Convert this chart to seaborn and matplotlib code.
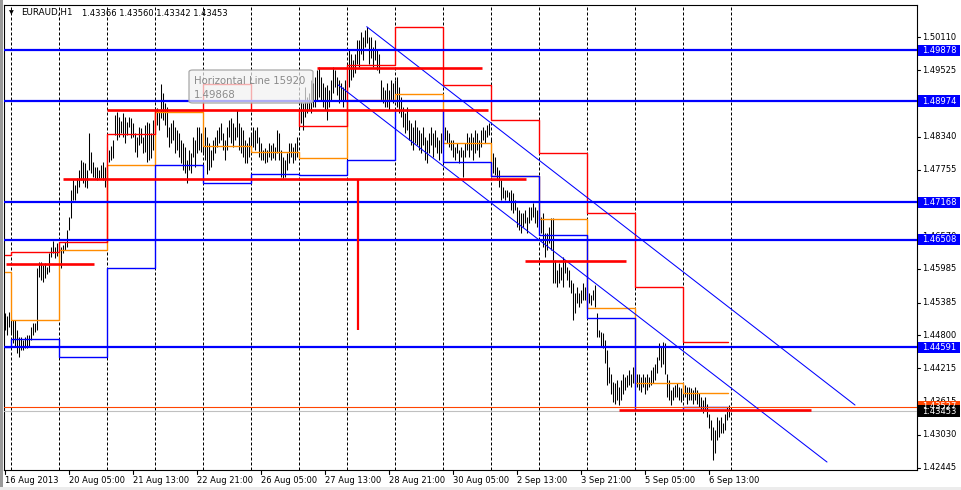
import matplotlib
matplotlib.use("Agg")
import numpy as np
import matplotlib.pyplot as plt
import matplotlib.transforms as mtrans
from matplotlib.patches import Rectangle, FancyBboxPatch
import seaborn as sns

sns.set_style("white")
plt.rcParams['font.family'] = ['DejaVu Sans']

# ---------------- data ----------------
symbol = "EURAUD,H1"
last_ohlc = ["1.43366", "1.43560", "1.43342", "1.43453"]

high = [
    1.4520, 1.4515, 1.4522,
    1.4513, 1.4508, 1.4508, 1.4490, 1.4477, 1.4477, 1.4472, 1.4477, 1.4481, 1.4481, 1.4495, 1.4502,
    1.4502, 1.4600, 1.4611, 1.4611, 1.4606, 1.4609, 1.4602, 1.4627, 1.4638, 1.4648, 1.4638, 1.4645,
    1.4645, 1.4638, 1.4641, 1.4646, 1.4668, 1.4691, 1.4739, 1.4757, 1.4748, 1.4760, 1.4775, 1.4792,
    1.4789, 1.4787, 1.4775, 1.4841, 1.4807, 1.4789, 1.4780, 1.4780, 1.4775, 1.4784, 1.4789, 1.4780,
    1.4816, 1.4810, 1.4818, 1.4828, 1.4873, 1.4878, 1.4869, 1.4862, 1.4876, 1.4869, 1.4860, 1.4869,
    1.4867, 1.4858, 1.4841, 1.4834, 1.4851, 1.4850, 1.4834, 1.4855, 1.4860, 1.4858, 1.4841, 1.4864,
    1.4887, 1.4885, 1.4878, 1.4928, 1.4912, 1.4894, 1.4887, 1.4851, 1.4858, 1.4864, 1.4851, 1.4846,
    1.4841, 1.4828, 1.4823, 1.4816, 1.4792, 1.4810, 1.4805, 1.4834, 1.4828, 1.4851, 1.4851, 1.4841,
    1.4846, 1.4851, 1.4834, 1.4823, 1.4810, 1.4828, 1.4834, 1.4846, 1.4851, 1.4858, 1.4841, 1.4828,
    1.4851, 1.4864, 1.4867, 1.4858, 1.4851, 1.4882, 1.4858, 1.4851, 1.4846, 1.4828, 1.4823, 1.4834,
    1.4841, 1.4851, 1.4846, 1.4851, 1.4834, 1.4823, 1.4810, 1.4814, 1.4810, 1.4823, 1.4819, 1.4823,
    1.4816, 1.4846, 1.4841, 1.4810, 1.4798, 1.4792, 1.4805, 1.4823, 1.4823, 1.4816, 1.4823, 1.4834,
    1.4876, 1.4899, 1.4894, 1.4922, 1.4905, 1.4912, 1.4935, 1.4930, 1.4940, 1.4953, 1.4958, 1.4940,
    1.4930, 1.4922, 1.4926, 1.4917, 1.4935, 1.4958, 1.4953, 1.4940, 1.4935, 1.4930, 1.4922, 1.4935,
    1.4958, 1.4988, 1.4982, 1.4971, 1.4982, 1.5006, 1.5006, 1.5020, 1.5011, 1.5024, 1.5029, 1.5011,
    1.5011, 1.4994, 1.5006, 1.4988, 1.4982, 1.4935, 1.4922, 1.4917, 1.4930, 1.4917, 1.4935, 1.4930,
    1.4935, 1.4940, 1.4922, 1.4905, 1.4887, 1.4876, 1.4887, 1.4864, 1.4858, 1.4851, 1.4864, 1.4851,
    1.4846, 1.4841, 1.4851, 1.4834, 1.4828, 1.4841, 1.4851, 1.4841, 1.4846, 1.4834, 1.4828, 1.4841,
    1.4851, 1.4851, 1.4846, 1.4841, 1.4828, 1.4828, 1.4816, 1.4823, 1.4810, 1.4816, 1.4810, 1.4823,
    1.4841, 1.4834, 1.4841, 1.4834, 1.4846, 1.4841, 1.4828, 1.4846, 1.4851, 1.4846, 1.4855, 1.4858,
    1.4830, 1.4805, 1.4798, 1.4780, 1.4775, 1.4757, 1.4744, 1.4739, 1.4739, 1.4735, 1.4739, 1.4734,
    1.4721, 1.4709, 1.4704, 1.4698, 1.4698, 1.4704, 1.4691, 1.4709, 1.4709, 1.4715, 1.4709, 1.4704,
    1.4704, 1.4691, 1.4698, 1.4662, 1.4662, 1.4673, 1.4689, 1.4689, 1.4615, 1.4597, 1.4609, 1.4602,
    1.4620, 1.4615, 1.4602, 1.4597, 1.4579, 1.4573, 1.4556, 1.4567, 1.4556, 1.4561, 1.4573, 1.4567,
    1.4564, 1.4556, 1.4552, 1.4561, 1.4570, 1.4520, 1.4490, 1.4486, 1.4484, 1.4472, 1.4454, 1.4424,
    1.4412, 1.4397, 1.4395, 1.4401, 1.4388, 1.4401, 1.4412, 1.4406, 1.4410, 1.4419, 1.4412, 1.4424,
    1.4430, 1.4412, 1.4412, 1.4406, 1.4412, 1.4406, 1.4412, 1.4406, 1.4419, 1.4424, 1.4430, 1.4442,
    1.4466, 1.4459, 1.4468, 1.4466, 1.4412, 1.4401, 1.4383, 1.4388, 1.4392, 1.4395, 1.4388, 1.4386,
    1.4395, 1.4392, 1.4388, 1.4388, 1.4386, 1.4383, 1.4388, 1.4383, 1.4377, 1.4370, 1.4365, 1.4370,
    1.4358, 1.4340, 1.4329, 1.4317, 1.4311, 1.4335, 1.4329, 1.4335, 1.4324, 1.4340, 1.4352, 1.4356,
]
low = [
    1.4490, 1.4480, 1.4495,
    1.4484, 1.4466, 1.4459, 1.4449, 1.4442, 1.4454, 1.4454, 1.4458, 1.4458, 1.4462, 1.4472, 1.4481,
    1.4486, 1.4490, 1.4584, 1.4579, 1.4575, 1.4582, 1.4590, 1.4593, 1.4620, 1.4627, 1.4618, 1.4622,
    1.4620, 1.4600, 1.4627, 1.4632, 1.4638, 1.4668, 1.4690, 1.4721, 1.4721, 1.4734, 1.4744, 1.4757,
    1.4751, 1.4744, 1.4743, 1.4775, 1.4770, 1.4762, 1.4760, 1.4757, 1.4760, 1.4760, 1.4757, 1.4744,
    1.4784, 1.4789, 1.4792, 1.4796, 1.4837, 1.4828, 1.4833, 1.4841, 1.4833, 1.4823, 1.4837, 1.4851,
    1.4832, 1.4833, 1.4807, 1.4798, 1.4819, 1.4823, 1.4805, 1.4807, 1.4789, 1.4792, 1.4796, 1.4810,
    1.4851, 1.4855, 1.4846, 1.4867, 1.4864, 1.4855, 1.4833, 1.4816, 1.4823, 1.4828, 1.4805, 1.4810,
    1.4798, 1.4787, 1.4775, 1.4770, 1.4751, 1.4775, 1.4770, 1.4798, 1.4780, 1.4805, 1.4810, 1.4807,
    1.4805, 1.4792, 1.4767, 1.4775, 1.4780, 1.4792, 1.4805, 1.4816, 1.4823, 1.4828, 1.4810, 1.4792,
    1.4810, 1.4834, 1.4823, 1.4816, 1.4828, 1.4834, 1.4810, 1.4805, 1.4798, 1.4787, 1.4787, 1.4798,
    1.4805, 1.4816, 1.4810, 1.4823, 1.4798, 1.4792, 1.4792, 1.4787, 1.4789, 1.4798, 1.4792, 1.4796,
    1.4792, 1.4805, 1.4792, 1.4762, 1.4760, 1.4762, 1.4775, 1.4787, 1.4798, 1.4787, 1.4792, 1.4798,
    1.4846, 1.4858, 1.4846, 1.4869, 1.4876, 1.4882, 1.4876, 1.4887, 1.4887, 1.4899, 1.4905, 1.4899,
    1.4887, 1.4882, 1.4864, 1.4887, 1.4899, 1.4912, 1.4922, 1.4908, 1.4894, 1.4899, 1.4887, 1.4899,
    1.4899, 1.4922, 1.4935, 1.4940, 1.4947, 1.4964, 1.4958, 1.4982, 1.4971, 1.4994, 1.5000, 1.4964,
    1.4975, 1.4958, 1.4971, 1.4953, 1.4947, 1.4899, 1.4894, 1.4887, 1.4887, 1.4882, 1.4899, 1.4894,
    1.4899, 1.4887, 1.4876, 1.4869, 1.4851, 1.4841, 1.4846, 1.4828, 1.4819, 1.4810, 1.4823, 1.4819,
    1.4810, 1.4805, 1.4819, 1.4792, 1.4787, 1.4805, 1.4819, 1.4798, 1.4816, 1.4805, 1.4792, 1.4805,
    1.4810, 1.4828, 1.4823, 1.4816, 1.4810, 1.4798, 1.4792, 1.4805, 1.4787, 1.4798, 1.4762, 1.4798,
    1.4810, 1.4798, 1.4810, 1.4792, 1.4805, 1.4810, 1.4798, 1.4816, 1.4828, 1.4823, 1.4833, 1.4837,
    1.4780, 1.4770, 1.4766, 1.4757, 1.4744, 1.4721, 1.4724, 1.4721, 1.4726, 1.4718, 1.4704, 1.4698,
    1.4704, 1.4673, 1.4668, 1.4662, 1.4673, 1.4680, 1.4662, 1.4680, 1.4686, 1.4691, 1.4680, 1.4673,
    1.4680, 1.4662, 1.4638, 1.4620, 1.4632, 1.4645, 1.4632, 1.4573, 1.4573, 1.4567, 1.4573, 1.4579,
    1.4567, 1.4591, 1.4579, 1.4567, 1.4556, 1.4508, 1.4520, 1.4538, 1.4531, 1.4538, 1.4543, 1.4543,
    1.4531, 1.4538, 1.4534, 1.4543, 1.4531, 1.4477, 1.4477, 1.4459, 1.4458, 1.4431, 1.4392, 1.4396,
    1.4376, 1.4361, 1.4358, 1.4365, 1.4356, 1.4365, 1.4376, 1.4383, 1.4388, 1.4392, 1.4388, 1.4396,
    1.4388, 1.4388, 1.4383, 1.4379, 1.4388, 1.4376, 1.4383, 1.4388, 1.4392, 1.4396, 1.4401, 1.4413,
    1.4436, 1.4424, 1.4430, 1.4412, 1.4370, 1.4365, 1.4356, 1.4365, 1.4370, 1.4370, 1.4365, 1.4361,
    1.4365, 1.4370, 1.4358, 1.4365, 1.4365, 1.4358, 1.4365, 1.4358, 1.4353, 1.4347, 1.4342, 1.4347,
    1.4335, 1.4315, 1.4293, 1.4258, 1.4270, 1.4294, 1.4299, 1.4306, 1.4306, 1.4311, 1.4329, 1.4334,
]

time_labels = ["16 Aug 2013", "20 Aug 05:00", "21 Aug 13:00", "22 Aug 21:00", "26 Aug 05:00",
               "27 Aug 13:00", "28 Aug 21:00", "30 Aug 05:00", "2 Sep 13:00", "3 Sep 21:00",
               "5 Sep 05:00", "6 Sep 13:00"]
bars_per_label = 32
first_day_bar = 3
bars_per_day = 24
n_days = 15

# previous-day high / close / low (first value = carried in from before the first grid day)
prev_high = [1.46233, 1.46286, 1.46470, 1.48388, 1.48824, 1.49278, 1.48824, 1.48530,
             1.49617, 1.50299, 1.49260, 1.48637, 1.48049, 1.46981, 1.45663, 1.44683]
prev_close = [1.45935, 1.45075, 1.46322, 1.47836, 1.48785, 1.48174, 1.48073, 1.47960,
              1.48993, 1.49100, 1.48222, 1.47640, 1.46874, 1.45289, 1.43953, 1.43775]
prev_low = [1.44600, 1.44732, 1.44422, 1.45996, 1.47836, 1.47515, 1.47675, 1.47657,
            1.47925, 1.48815, 1.47895, 1.47640, 1.46589, 1.45111, 1.43472, 1.43531]

blue_levels = [1.49878, 1.48974, 1.47168, 1.46508, 1.44591]
ask_level = 1.43527
bid_level = 1.43453

# red trend segments: price, start bar, end bar
red_seg_price = [1.46067, 1.47586, 1.48824, 1.49569, 1.46131, 1.43464]
red_seg_start = [0.2, 28.7, 50.7, 155.7, 259.7, 306.7]
red_seg_end = [44.2, 260.2, 241.2, 238.2, 310.2, 402.7]
red_vert_bar = 176.2
red_vert_prices = [1.44899, 1.47569]

channel_upper_bars = [180.6, 424.75]
channel_upper_prices = [1.50299, 1.43561]
channel_lower_bars = [166.4, 410.75]
channel_lower_prices = [1.49260, 1.42546]

axis_ticks = [1.50110, 1.49525, 1.48940, 1.48340, 1.47755, 1.47170, 1.46570,
              1.45985, 1.45385, 1.44800, 1.44215, 1.43615, 1.43030, 1.42445]

tooltip_title = "Horizontal Line 15920"
tooltip_value = "1.49868"

# ---------------- figure ----------------
W, H = 962, 490
fig = plt.figure(figsize=(W / 100, H / 100), dpi=100, facecolor="white")
ax = fig.add_axes([4 / W, 20 / H, 913 / W, 465 / H])
ax.set_facecolor("white")
ax.set_xlim(-0.75, 455.75)
ax.set_ylim(1.42404, 1.50685)
ax.set_xticks([])
ax.set_yticks([])
for s in ax.spines.values():
    s.set_color("black")
    s.set_linewidth(0.8)

def fx(px):
    return px / W

def fy(py):
    return 1 - py / H

t_fx_dy = mtrans.blended_transform_factory(fig.transFigure, ax.transData)
t_dx_fy = mtrans.blended_transform_factory(ax.transData, fig.transFigure)

n = len(high)
bar_x = np.arange(n)

# grid (day separators)
for k in range(n_days + 1):
    ax.axvline(first_day_bar + bars_per_day * k, color="black", lw=0.72,
               dashes=(3, 2), zorder=1)

# price bars
ax.vlines(bar_x, low, high, colors="black", lw=0.75, zorder=2)

# step indicator lines
step_x = [-0.25] + [first_day_bar + bars_per_day * k for k in range(n_days)] + [361.4]
for vals, col in [(prev_close, "#ff8c00"), (prev_low, "#0000ff"), (prev_high, "#ff0000")]:
    sns.lineplot(x=step_x, y=list(vals) + [vals[-1]], drawstyle="steps-post",
                 color=col, lw=1.0, ax=ax, estimator=None, sort=False, zorder=3)

# horizontal blue levels
for p in blue_levels:
    ax.axhline(p, color="#0000ff", lw=1.6, zorder=4)

# bid / ask
ax.axhline(bid_level, color="#c0c0c0", lw=0.8, zorder=3)
ax.axhline(ask_level, color="#ff4500", lw=0.8, zorder=3)

# red trend segments
ax.hlines(red_seg_price, red_seg_start, red_seg_end, colors="#ff0000", lw=1.9, zorder=5)
ax.vlines([red_vert_bar], [red_vert_prices[0]], [red_vert_prices[1]], colors="#ff0000",
          lw=1.6, zorder=5)

# channel
sns.lineplot(x=channel_upper_bars, y=channel_upper_prices, color="#0000ff", lw=0.75,
             ax=ax, estimator=None, sort=False, zorder=4)
sns.lineplot(x=channel_lower_bars, y=channel_lower_prices, color="#0000ff", lw=0.75,
             ax=ax, estimator=None, sort=False, zorder=4)

# right price axis (some labels lie partly under the line-value boxes, as in MT4)
for p in axis_ticks:
    ax.plot([fx(917), fx(920)], [p, p], transform=t_fx_dy, color="black", lw=0.8,
            clip_on=False)
    ax.text(fx(922.5), p, f"{p:.5f}", transform=t_fx_dy, fontsize=6, va="center",
            ha="left", color="black", clip_on=False)

half_h = 0.00100
box_specs = [(p, "#0000ff") for p in blue_levels] + [(ask_level, "#ff4500"), (bid_level, "#000000")]
for p, col in box_specs:
    ax.add_patch(Rectangle((fx(918), p - half_h), fx(960) - fx(918), 2 * half_h,
                           transform=t_fx_dy, facecolor=col, edgecolor="none",
                           clip_on=False, zorder=10))
    ax.text(fx(922.5), p, f"{p:.5f}", transform=t_fx_dy, fontsize=6, va="center",
            ha="left", color="white", clip_on=False, zorder=11)

# time axis
for k, lab in enumerate(time_labels):
    b = k * bars_per_label
    ax.plot([b, b], [fy(470), fy(474)], transform=t_dx_fy, color="black", lw=0.8,
            clip_on=False)
    ax.text(b - 0.4, fy(480), lab, transform=t_dx_fy, fontsize=6, va="center",
            ha="left", color="black", clip_on=False)

# header
fig.text(fx(11.5), fy(13), "\u25bc", fontsize=4.5, ha="center", va="center", color="black")
fig.text(fx(20.7), fy(13), symbol, fontsize=6.3, ha="left", va="center", color="black")
fig.text(fx(81.7), fy(13), " ".join(last_ohlc), fontsize=6, ha="left", va="center",
         color="black")

# tooltip
tip = FancyBboxPatch((fx(189), fy(103)), fx(313) - fx(189), fy(70) - fy(103),
                     boxstyle="round,pad=0,rounding_size=0.004",
                     transform=fig.transFigure, facecolor=(0.95, 0.95, 0.95, 0.72),
                     edgecolor="#a8a8a8", lw=0.9, zorder=20)
fig.add_artist(tip)
fig.text(fx(194), fy(80.5), tooltip_title, fontsize=7.3, color="#8a8a8a", ha="left",
         va="center", zorder=21)
fig.text(fx(194), fy(95), tooltip_value, fontsize=7.3, color="#8a8a8a", ha="left",
         va="center", zorder=21)

# window edges
fig.add_artist(Rectangle((0, 0), fx(2.5), 1, transform=fig.transFigure,
                         facecolor="#9a9a9a", edgecolor="none"))
fig.add_artist(Rectangle((0, 0), 1, 3 / H, transform=fig.transFigure,
                         facecolor="#ececec", edgecolor="none"))

fig.savefig("out.png", dpi=100, facecolor="white")
